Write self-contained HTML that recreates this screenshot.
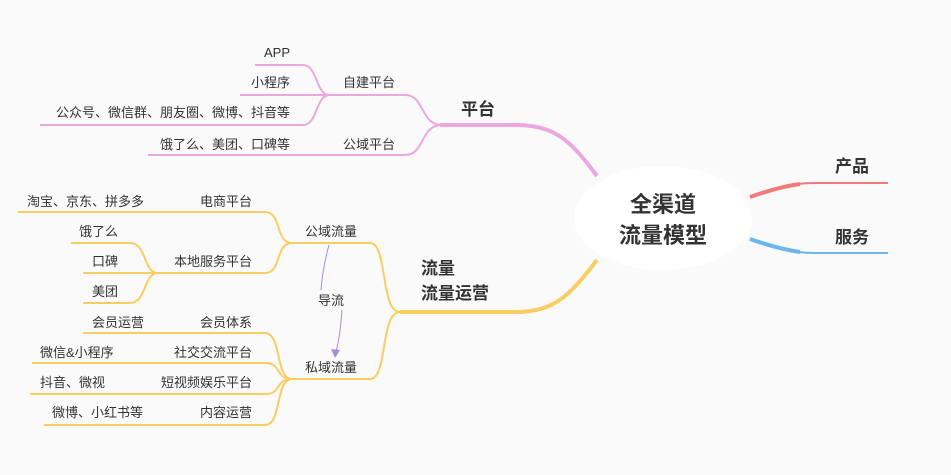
<!DOCTYPE html>
<html><head><meta charset="utf-8"><style>
html,body{margin:0;padding:0;background:#fafafa;}
svg{display:block;}
text{font-family:"Liberation Sans","Noto Sans CJK SC",sans-serif;fill:#333;}
.l{font-size:13px;}
.b{font-size:17px;font-weight:bold;}
</style></head><body>
<svg width="951" height="475" viewBox="0 0 951 475">
<rect width="951" height="475" fill="#fafafa"/>
<g fill="none" stroke="#eaa8df" stroke-width="2">
<path d="M597,176 C570,140 555,125 515,125 L440,125" stroke-width="4"/>
<path d="M442,125 C420,125 425,95 405,95 L330,95"/>
<path d="M442,125 C420,125 425,155 405,155 L148,155"/>
<path d="M330,95 C315,95 318,65 303,65 L255,65"/>
<path d="M330,95 L240,95"/>
<path d="M330,95 C315,95 318,125 303,125 L40,125"/>
</g>
<g fill="none" stroke="#f8cd63" stroke-width="2">
<path d="M597,260 C570,295 555,312 515,312 L400,312" stroke-width="4"/>
<path d="M400,312 C380,312 388,243 370,243 L292,243"/>
<path d="M400,312 C380,312 388,379 370,379 L292,379"/>
<path d="M292,243 C275,243 282,212 265,212 L18,212"/>
<path d="M292,243 C275,243 282,273 265,273 L158,273"/>
<path d="M158,273 C143,273 147,243 130,243 L71,243"/>
<path d="M158,273 L83,273"/>
<path d="M158,273 C143,273 147,303 130,303 L83,303"/>
<path d="M292,379 C275,379 282,333 265,333 L83,333"/>
<path d="M292,379 C275,379 282,363 265,363 L32,363"/>
<path d="M292,379 C275,379 282,394 265,394 L30,394"/>
<path d="M292,379 C275,379 282,425 265,425 L44,425"/>
</g>
<path d="M750,197 C775,188 790,183 815,183 L888,183" fill="none" stroke="#f07b7b" stroke-width="2"/>
<path d="M750,197 C770,190 785,186 800,184" fill="none" stroke="#f07b7b" stroke-width="4"/>
<path d="M750,239 C775,248 790,253 815,253 L888,253" fill="none" stroke="#6bb6ec" stroke-width="2"/>
<path d="M750,239 C770,246 785,250 800,252" fill="none" stroke="#6bb6ec" stroke-width="4"/>
<ellipse cx="663" cy="218" rx="89" ry="52" fill="#fff"/>
<text x="663" y="212" text-anchor="middle" font-size="22" font-weight="bold">全渠道</text>
<text x="663" y="243" text-anchor="middle" font-size="22" font-weight="bold">流量模型</text>
<text class="b" x="852" y="172" text-anchor="middle">产品</text>
<text class="b" x="852" y="243" text-anchor="middle">服务</text>
<text class="b" x="478" y="115" text-anchor="middle">平台</text>
<text class="b" x="421" y="274">流量</text>
<text class="b" x="421" y="299">流量运营</text>
<g fill="none" stroke="#a98be0" stroke-width="1">
<path d="M329,245 C325,260 322,275 321,290"/>
<path d="M342,310 C341,325 339,340 336,352"/>
</g>
<path d="M331,349 L340,350 L335,358 Z" fill="#a98be0"/>
<text class="l" x="331" y="305" text-anchor="middle">导流</text>
<g class="l">
<text class="l" x="290" y="57" text-anchor="end">APP</text>
<text class="l" x="290" y="87" text-anchor="end">小程序</text>
<text class="l" x="290" y="117" text-anchor="end">公众号、微信群、朋友圈、微博、抖音等</text>
<text class="l" x="343" y="87">自建平台</text>
<text class="l" x="343" y="149">公域平台</text>
<text class="l" x="290" y="149" text-anchor="end">饿了么、美团、口碑等</text>
<text class="l" x="305" y="236">公域流量</text>
<text class="l" x="305" y="372">私域流量</text>
<text class="l" x="27" y="206">淘宝、京东、拼多多</text>
<text class="l" x="252" y="206" text-anchor="end">电商平台</text>
<text class="l" x="252" y="266" text-anchor="end">本地服务平台</text>
<text class="l" x="79" y="236">饿了么</text>
<text class="l" x="92" y="266">口碑</text>
<text class="l" x="92" y="296">美团</text>
<text class="l" x="92" y="327">会员运营</text>
<text class="l" x="252" y="327" text-anchor="end">会员体系</text>
<text class="l" x="40" y="357">微信&amp;小程序</text>
<text class="l" x="252" y="357" text-anchor="end">社交交流平台</text>
<text class="l" x="40" y="387">抖音、微视</text>
<text class="l" x="252" y="387" text-anchor="end">短视频娱乐平台</text>
<text class="l" x="52" y="417">微博、小红书等</text>
<text class="l" x="252" y="417" text-anchor="end">内容运营</text>
</g>
</svg>
</body></html>
